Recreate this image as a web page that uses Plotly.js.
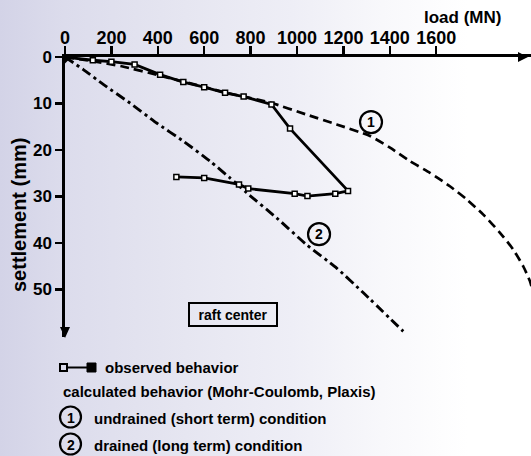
<!DOCTYPE html>
<html>
<head>
<meta charset="utf-8">
<script src="https://cdn.plot.ly/plotly-3.0.1.min.js"></script>
<style>
  html, body { margin:0; padding:0; width:531px; height:456px; overflow:hidden;
    background: linear-gradient(to right, #d3d3e7 0%, #dcdcec 12%, #e6e6f1 35%, #eeeef6 55%, #f8f8fb 72%, #ffffff 88%); }
  #chart { width:531px; height:456px; }
</style>
</head>
<body>
<div id="chart"></div>
<script>
// ---- data (load in MN, settlement in mm) ----
const loadTicks = [0, 200, 400, 600, 800, 1000, 1200, 1400, 1600];
const loadTickText = ["0", "200", "400", "600", "800", "1000", "1200", "1400", "1600"];
const settleTicks = [0, 10, 20, 30, 40, 50];
const settleTickText = ["0", "10", "20", "30", "40", "50"];

// observed behaviour (loading then unloading)
const obsLoad   = [0, 120, 200, 300, 410, 510, 600, 690, 770, 890, 970, 1220, 1165, 1045, 990, 790, 750, 600, 480];
const obsSettle = [0, 0.7, 1.0, 1.6, 3.8, 5.4, 6.5, 7.7, 8.5, 10.2, 15.4, 28.8, 29.4, 29.9, 29.4, 28.3, 27.4, 26.0, 25.8];

// calculated (1) undrained / short term
const undrLoad   = [0, 120, 244, 417, 589, 697, 884, 1042, 1171, 1315, 1401, 1487, 1573, 1659, 1731, 1803, 1875, 1932, 1975, 2004, 2025];
const undrSettle = [0, 0.9, 2.0, 4.1, 6.3, 7.7, 9.8, 12.4, 14.5, 17.0, 19.5, 22.4, 24.9, 27.8, 30.6, 33.9, 37.8, 41.4, 45.0, 48.2, 52.0];

// calculated (2) drained / long term
const drLoad   = [0, 79, 165, 280, 395, 510, 625, 711, 783, 912, 1042, 1171, 1286, 1458];
const drSettle = [0, 2.7, 5.9, 9.9, 14.2, 18.1, 22.4, 26.0, 29.2, 34.6, 40.4, 45.4, 50.7, 59.0];

const labelNames = ["1", "2"];
const labelLoad = [1319, 1095];
const labelSettle = [14.0, 38.1];

// ---- layout helpers (pixel -> paper) ----
const L = 65, T = 57, PW = 466, PH = 280;
const px = x => (x - L) / PW;
const py = y => (T + PH - y) / PH;
const FONT = "Liberation Sans, Arial, Helvetica, sans-serif";
const bold = (size) => ({family: FONT, size: size, color: "#000", weight: "bold"});

const traces = [
  {x: undrLoad, y: undrSettle, mode: "lines", line: {color: "#000", width: 2.7, dash: "9px,5px", shape: "spline", smoothing: 0.6}, hoverinfo: "skip"},
  {x: drLoad, y: drSettle, mode: "lines", line: {color: "#000", width: 2.9, dash: "10px,4px,3px,4px", shape: "spline", smoothing: 0.5}, hoverinfo: "skip"},
  {x: obsLoad, y: obsSettle, mode: "lines+markers", line: {color: "#000", width: 2.8},
   marker: {symbol: "square", size: 5, color: "#fff", line: {color: "#000", width: 1.5}}, hoverinfo: "skip"},
  {x: [obsLoad[0]], y: [obsSettle[0]], mode: "markers", marker: {symbol: "diamond", size: 10, color: "#000"}, hoverinfo: "skip"}
];

function note(x, y, text, size, xanchor, extra) {
  return Object.assign({xref: "paper", yref: "paper", x: px(x), y: py(y), text: text, showarrow: false,
    font: bold(size), xanchor: xanchor || "center", yanchor: "middle"}, extra || {});
}

const annotations = [
  note(462, 17, "load (MN)", 17),
  note(19, 215, "settlement (mm)", 20, "center", {textangle: -90}),
  note(232.5, 314.5, "raft center", 14, "center", {bordercolor: "#000", borderwidth: 2, borderpad: 1, width: 84, height: 19}),
  note(103, 367, "observed behavior", 15, "left"),
  note(61, 391, "calculated behavior (Mohr-Coulomb, Plaxis)", 15, "left"),
  note(92, 418, "undrained (short term) condition", 15, "left"),
  note(92, 445, "drained (long term) condition", 15, "left"),
  note(70.5, 417.5, labelNames[0], 14),
  note(70.5, 444.5, labelNames[1], 14)
];
for (let i = 0; i < labelNames.length; i++) {
  annotations.push({xref: "x", yref: "y", x: labelLoad[i], y: labelSettle[i], text: labelNames[i], showarrow: false,
    xanchor: "center", yanchor: "middle", font: bold(14)});
}

const shapes = [
  // axis arrow heads
  {type: "path", xref: "paper", yref: "paper", path: `M ${px(528)} ${py(57)} L ${px(518)} ${py(52)} L ${px(518)} ${py(62)} Z`, fillcolor: "#000", line: {width: 0}},
  {type: "path", xref: "paper", yref: "paper", path: `M ${px(65)} ${py(338)} L ${px(60)} ${py(327)} L ${px(70)} ${py(327)} Z`, fillcolor: "#000", line: {width: 0}},
  // legend symbol: open square - line - filled square
  {type: "rect", xref: "paper", yref: "paper", x0: px(60), x1: px(67), y0: py(364), y1: py(371), line: {color: "#000", width: 2}, fillcolor: "rgba(0,0,0,0)"},
  {type: "line", xref: "paper", yref: "paper", x0: px(67), x1: px(87), y0: py(367.5), y1: py(367.5), line: {color: "#000", width: 2}},
  {type: "rect", xref: "paper", yref: "paper", x0: px(87), x1: px(96), y0: py(363), y1: py(372), line: {color: "#000", width: 1}, fillcolor: "#000"},
  // legend circles
  {type: "circle", xref: "paper", yref: "paper", x0: px(60), x1: px(81), y0: py(406.5), y1: py(427.5), line: {color: "#000", width: 2.2}},
  {type: "circle", xref: "paper", yref: "paper", x0: px(60), x1: px(81), y0: py(433.5), y1: py(454.5), line: {color: "#000", width: 2.2}}
];
for (let i = 0; i < labelNames.length; i++) {
  shapes.push({type: "circle", xref: "x", yref: "y", xsizemode: "pixel", ysizemode: "pixel",
    xanchor: labelLoad[i], yanchor: labelSettle[i], x0: -11, x1: 11, y0: -11, y1: 11, line: {color: "#000", width: 2.2}});
}

const layout = {
  width: 531, height: 456,
  margin: {l: L, r: 0, t: T, b: 456 - T - PH},
  paper_bgcolor: "rgba(0,0,0,0)", plot_bgcolor: "rgba(0,0,0,0)",
  showlegend: false,
  xaxis: {side: "top", range: [0, PW / 0.232], tickvals: loadTicks, ticktext: loadTickText,
    showline: true, linecolor: "#000", linewidth: 2.6, ticks: "outside", ticklen: 8, tickwidth: 2.5, tickcolor: "#000",
    showgrid: false, zeroline: false, tickfont: bold(18), ticklabelstandoff: -5, fixedrange: true},
  yaxis: {range: [PH / 4.65, 0], tickvals: settleTicks, ticktext: settleTickText,
    showline: true, linecolor: "#000", linewidth: 2.6, ticks: "outside", ticklen: 7, tickwidth: 2.5, tickcolor: "#000",
    showgrid: false, zeroline: false, tickfont: bold(17), ticklabelstandoff: 0, fixedrange: true},
  annotations: annotations,
  shapes: shapes
};

Plotly.newPlot("chart", traces, layout, {displayModeBar: false, staticPlot: true});
</script>
</body>
</html>
